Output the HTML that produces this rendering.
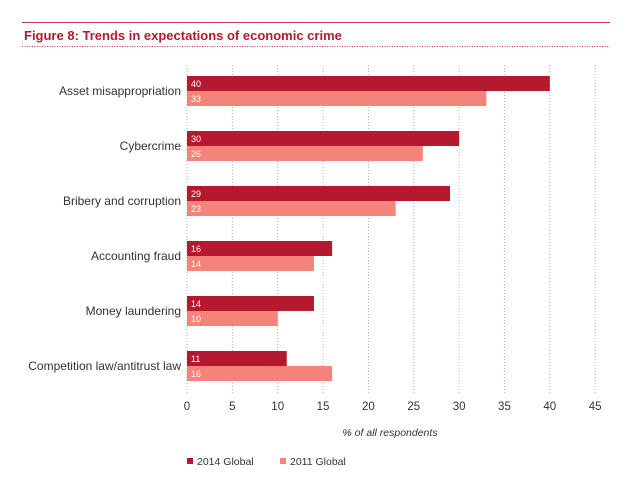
<!DOCTYPE html>
<html><head><meta charset="utf-8"><style>
body{margin:0;width:638px;height:489px;background:#fff;font-family:"Liberation Sans",sans-serif;overflow:hidden}
</style></head><body>
<svg width="638" height="489" xmlns="http://www.w3.org/2000/svg">
<line x1="22" y1="22.5" x2="610" y2="22.5" stroke="#c8364b" stroke-width="1"/>
<text x="24" y="40" font-size="13" font-weight="bold" fill="#b5192f">Figure 8: Trends in expectations of economic crime</text>
<line x1="22" y1="46.5" x2="610" y2="46.5" stroke="#c8364b" stroke-width="1" stroke-dasharray="1,1.5"/>
<g id="grid"></g><g id="bars"></g><g id="ticks"></g>
<text x="390" y="436" font-size="10.5" font-style="italic" fill="#333" text-anchor="middle">% of all respondents</text>
<rect x="187" y="458" width="6" height="6" fill="#b5192f"/>
<text x="197" y="465" font-size="10.5" fill="#333">2014 Global</text>
<rect x="280" y="458" width="6" height="6" fill="#f4847a"/>
<text x="290" y="465" font-size="10.5" fill="#333">2011 Global</text>
</svg>
<script>
const categories=["Asset misappropriation","Cybercrime","Bribery and corruption","Accounting fraud","Money laundering","Competition law/antitrust law"];
const values2014=[40,30,29,16,14,11];
const values2011=[33,26,23,14,10,16];
const tickValues=[0,5,10,15,20,25,30,35,40,45];
const NS="http://www.w3.org/2000/svg";
const x0=187,pxPerUnit=9.07,top0=76,step=55,bh=15;
function xs(v){return x0+v*pxPerUnit;}
function el(t,a,p){const e=document.createElementNS(NS,t);for(const k in a)e.setAttribute(k,a[k]);document.getElementById(p).appendChild(e);return e;}
tickValues.forEach(v=>{
  const g=el('line',{x1:xs(v),x2:xs(v),y1:65,y2:393,stroke:'#aaa','stroke-width':1,'stroke-dasharray':'1,2'},'grid');
  
  
  const t=el('text',{x:xs(v),y:410,'font-size':11.5,fill:'#333','text-anchor':'middle'},'ticks');
  t.textContent=v;
  
  
});
categories.forEach((c,i)=>{
  const y=top0+i*step;
  const l=el('text',{x:181,y:y+19,'font-size':12,fill:'#333','text-anchor':'end'},'bars');
  l.textContent=c;
  
  
  [[values2014[i],'#b5192f',0],[values2011[i],'#f4847a',bh]].forEach(([v,col,off])=>{
    const r=el('rect',{x:x0,y:y+off,width:xs(v)-x0,height:bh,fill:col},'bars');
    
    
    const t=el('text',{x:x0+4,y:y+off+11,'font-size':9,fill:'#fff'},'bars');
    t.textContent=v;
    
    
  });
});
</script>
</body></html>
